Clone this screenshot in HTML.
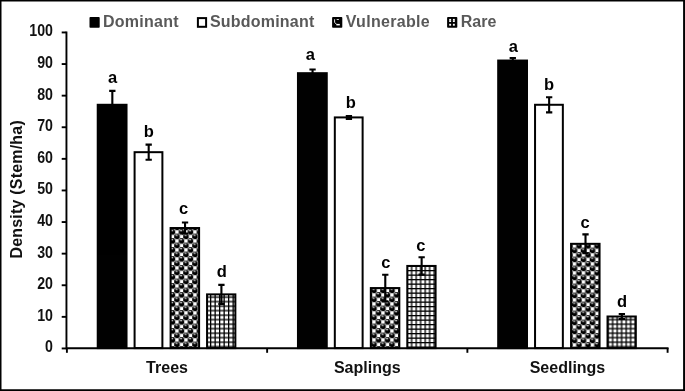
<!DOCTYPE html>
<html lang="en"><head><meta charset="utf-8"><title>Density chart</title>
<style>
html,body{margin:0;padding:0;background:#fff}
body{width:685px;height:391px;overflow:hidden}
svg{will-change:transform;opacity:0.999}
svg text{font-family:"Liberation Sans",Arial,sans-serif;font-weight:bold}
.dl{font-size:16.5px;fill:#000}
.tk{font-size:15.6px;fill:#111}
.ct{font-size:16px;fill:#111}
.yt{font-size:16px;fill:#111;letter-spacing:0.2px}
.lg{font-size:16px;fill:#595959}
</style></head><body>
<svg width="685" height="391" viewBox="0 0 685 391" style="display:block">
<defs><pattern id="sph0" patternUnits="userSpaceOnUse" width="9.0" height="9.0" patternTransform="translate(3.19 4.19)">
<rect width="9.0" height="9.0" fill="#000"/>
<rect x="1.060" y="1.060" width="3.5" height="3.5" fill="#fff"/>
<rect x="5.560" y="5.560" width="3.5" height="3.5" fill="#fff"/>
<rect x="0.050" y="0.050" width="1.3" height="1.3" fill="#c8c8c8"/>
<rect x="4.550" y="0.050" width="1.3" height="1.3" fill="#c8c8c8"/>
<rect x="0.050" y="4.550" width="1.3" height="1.3" fill="#c8c8c8"/>
<rect x="4.550" y="4.550" width="1.3" height="1.3" fill="#c8c8c8"/>
<ellipse cx="7.010" cy="1.610" rx="1.2" ry="0.6" fill="#fff"/>
<ellipse cx="2.510" cy="6.110" rx="1.2" ry="0.6" fill="#fff"/>
</pattern><pattern id="grd0" patternUnits="userSpaceOnUse" width="9.0" height="9.0" patternTransform="translate(3.0 -0.5)"><rect width="9.0" height="9.0" fill="#fff"/><rect x="0" y="0" width="1.3" height="9.0" fill="#000"/><rect x="0" y="0" width="9.0" height="1.3" fill="#000"/><rect x="4.5" y="0" width="1.3" height="9.0" fill="#000"/><rect x="0" y="4.5" width="9.0" height="1.3" fill="#000"/></pattern><pattern id="sph1" patternUnits="userSpaceOnUse" width="9.0" height="9.0" patternTransform="translate(2.19 4.19)">
<rect width="9.0" height="9.0" fill="#000"/>
<rect x="1.060" y="1.060" width="3.5" height="3.5" fill="#fff"/>
<rect x="5.560" y="5.560" width="3.5" height="3.5" fill="#fff"/>
<rect x="0.050" y="0.050" width="1.3" height="1.3" fill="#c8c8c8"/>
<rect x="4.550" y="0.050" width="1.3" height="1.3" fill="#c8c8c8"/>
<rect x="0.050" y="4.550" width="1.3" height="1.3" fill="#c8c8c8"/>
<rect x="4.550" y="4.550" width="1.3" height="1.3" fill="#c8c8c8"/>
<ellipse cx="7.010" cy="1.610" rx="1.2" ry="0.6" fill="#fff"/>
<ellipse cx="2.510" cy="6.110" rx="1.2" ry="0.6" fill="#fff"/>
</pattern><pattern id="grd1" patternUnits="userSpaceOnUse" width="9.0" height="9.0" patternTransform="translate(1.5 0.0)"><rect width="9.0" height="9.0" fill="#fff"/><rect x="0" y="0" width="1.3" height="9.0" fill="#000"/><rect x="0" y="0" width="9.0" height="1.3" fill="#000"/><rect x="4.5" y="0" width="1.3" height="9.0" fill="#000"/><rect x="0" y="4.5" width="9.0" height="1.3" fill="#000"/></pattern><pattern id="sph2" patternUnits="userSpaceOnUse" width="9.0" height="9.0" patternTransform="translate(4.69 0.19)">
<rect width="9.0" height="9.0" fill="#000"/>
<rect x="1.060" y="1.060" width="3.5" height="3.5" fill="#fff"/>
<rect x="5.560" y="5.560" width="3.5" height="3.5" fill="#fff"/>
<rect x="0.050" y="0.050" width="1.3" height="1.3" fill="#c8c8c8"/>
<rect x="4.550" y="0.050" width="1.3" height="1.3" fill="#c8c8c8"/>
<rect x="0.050" y="4.550" width="1.3" height="1.3" fill="#c8c8c8"/>
<rect x="4.550" y="4.550" width="1.3" height="1.3" fill="#c8c8c8"/>
<ellipse cx="7.010" cy="1.610" rx="1.2" ry="0.6" fill="#fff"/>
<ellipse cx="2.510" cy="6.110" rx="1.2" ry="0.6" fill="#fff"/>
</pattern><pattern id="grd2" patternUnits="userSpaceOnUse" width="9.0" height="9.0" patternTransform="translate(4.5 -0.5)"><rect width="9.0" height="9.0" fill="#fff"/><rect x="0" y="0" width="1.3" height="9.0" fill="#000"/><rect x="0" y="0" width="9.0" height="1.3" fill="#000"/><rect x="4.5" y="0" width="1.3" height="9.0" fill="#000"/><rect x="0" y="4.5" width="9.0" height="1.3" fill="#000"/></pattern><filter id="soft" x="-5%" y="-5%" width="110%" height="110%"><feGaussianBlur stdDeviation="0.28"/></filter></defs>
<rect x="0" y="0" width="685" height="391" fill="#fff"/>
<rect x="97.73" y="104.78" width="28.8" height="243.32" fill="#000" stroke="#000" stroke-width="2.0"/>
<rect x="134.59" y="152.18" width="27.8" height="195.92" fill="#fff" stroke="#000" stroke-width="2.0"/>
<rect x="170.60" y="228.02" width="28.5" height="120.08" fill="url(#sph0)" filter="url(#soft)"/>
<rect x="170.60" y="228.02" width="28.5" height="120.08" fill="none" stroke="#000" stroke-width="2.0"/>
<rect x="207.06" y="294.38" width="28.3" height="53.72" fill="url(#grd0)"/>
<rect x="207.06" y="294.38" width="28.3" height="53.72" fill="none" stroke="#000" stroke-width="2.0"/>
<rect x="297.96" y="73.18" width="28.8" height="274.92" fill="#000" stroke="#000" stroke-width="2.0"/>
<rect x="334.82" y="117.42" width="27.8" height="230.68" fill="#fff" stroke="#000" stroke-width="2.0"/>
<rect x="370.83" y="288.06" width="28.5" height="60.04" fill="url(#sph1)" filter="url(#soft)"/>
<rect x="370.83" y="288.06" width="28.5" height="60.04" fill="none" stroke="#000" stroke-width="2.0"/>
<rect x="407.29" y="265.94" width="28.3" height="82.16" fill="url(#grd1)"/>
<rect x="407.29" y="265.94" width="28.3" height="82.16" fill="none" stroke="#000" stroke-width="2.0"/>
<rect x="498.19" y="60.54" width="28.8" height="287.56" fill="#000" stroke="#000" stroke-width="2.0"/>
<rect x="535.05" y="104.78" width="27.8" height="243.32" fill="#fff" stroke="#000" stroke-width="2.0"/>
<rect x="571.06" y="243.82" width="28.5" height="104.28" fill="url(#sph2)" filter="url(#soft)"/>
<rect x="571.06" y="243.82" width="28.5" height="104.28" fill="none" stroke="#000" stroke-width="2.0"/>
<rect x="607.52" y="316.50" width="28.3" height="31.60" fill="url(#grd2)"/>
<rect x="607.52" y="316.50" width="28.3" height="31.60" fill="none" stroke="#000" stroke-width="2.0"/>
<path d="M112.33 90.88V118.68M109.18 90.88H115.48M109.18 118.68H115.48" stroke="#000" stroke-width="2.1" fill="none"/>
<text x="112.63" y="82.60" text-anchor="middle" class="dl">a</text>
<path d="M148.69 144.60V159.76M145.54 144.60H151.84M145.54 159.76H151.84" stroke="#000" stroke-width="2.1" fill="none"/>
<text x="148.69" y="136.60" text-anchor="middle" class="dl">b</text>
<path d="M185.05 222.49V233.55M181.90 222.49H188.20M181.90 233.55H188.20" stroke="#000" stroke-width="2.1" fill="none"/>
<text x="183.65" y="214.00" text-anchor="middle" class="dl">c</text>
<path d="M221.41 284.90V303.86M218.26 284.90H224.56M218.26 303.86H224.56" stroke="#000" stroke-width="2.1" fill="none"/>
<text x="221.71" y="277.00" text-anchor="middle" class="dl">d</text>
<path d="M312.56 69.55V76.81M309.41 69.55H315.71M309.41 76.81H315.71" stroke="#000" stroke-width="2.1" fill="none"/>
<text x="310.46" y="59.50" text-anchor="middle" class="dl">a</text>
<path d="M348.92 116.00V118.84M345.77 116.00H352.07M345.77 118.84H352.07" stroke="#000" stroke-width="2.1" fill="none"/>
<text x="350.92" y="107.80" text-anchor="middle" class="dl">b</text>
<path d="M385.28 274.79V301.33M382.13 274.79H388.43M382.13 301.33H388.43" stroke="#000" stroke-width="2.1" fill="none"/>
<text x="385.78" y="267.60" text-anchor="middle" class="dl">c</text>
<path d="M421.64 257.25V274.63M418.49 257.25H424.79M418.49 274.63H424.79" stroke="#000" stroke-width="2.1" fill="none"/>
<text x="420.94" y="250.80" text-anchor="middle" class="dl">c</text>
<path d="M512.79 58.17V62.91M509.64 58.17H515.94M509.64 62.91H515.94" stroke="#000" stroke-width="2.1" fill="none"/>
<text x="513.39" y="52.30" text-anchor="middle" class="dl">a</text>
<path d="M549.15 97.20V112.36M546.00 97.20H552.30M546.00 112.36H552.30" stroke="#000" stroke-width="2.1" fill="none"/>
<text x="549.15" y="89.90" text-anchor="middle" class="dl">b</text>
<path d="M585.51 234.34V253.30M582.36 234.34H588.66M582.36 253.30H588.66" stroke="#000" stroke-width="2.1" fill="none"/>
<text x="585.01" y="228.40" text-anchor="middle" class="dl">c</text>
<path d="M621.87 313.97V319.03M618.72 313.97H625.02M618.72 319.03H625.02" stroke="#000" stroke-width="2.1" fill="none"/>
<text x="622.17" y="306.50" text-anchor="middle" class="dl">d</text>
<path d="M66.45 31.50V349.15000000000003M65.5 348.20000000000005H668.5500000000001" stroke="#000" stroke-width="1.9" fill="none"/>
<path d="M61.699999999999996 348.45H66.3" stroke="#000" stroke-width="1.9"/>
<text transform="translate(53.0 352.40) scale(0.91 1)" text-anchor="end" class="tk">0</text>
<path d="M61.699999999999996 316.85H66.3" stroke="#000" stroke-width="1.9"/>
<text transform="translate(53.0 320.80) scale(0.91 1)" text-anchor="end" class="tk">10</text>
<path d="M61.699999999999996 285.25H66.3" stroke="#000" stroke-width="1.9"/>
<text transform="translate(53.0 289.20) scale(0.91 1)" text-anchor="end" class="tk">20</text>
<path d="M61.699999999999996 253.65H66.3" stroke="#000" stroke-width="1.9"/>
<text transform="translate(53.0 257.60) scale(0.91 1)" text-anchor="end" class="tk">30</text>
<path d="M61.699999999999996 222.05H66.3" stroke="#000" stroke-width="1.9"/>
<text transform="translate(53.0 226.00) scale(0.91 1)" text-anchor="end" class="tk">40</text>
<path d="M61.699999999999996 190.45H66.3" stroke="#000" stroke-width="1.9"/>
<text transform="translate(53.0 194.40) scale(0.91 1)" text-anchor="end" class="tk">50</text>
<path d="M61.699999999999996 158.85H66.3" stroke="#000" stroke-width="1.9"/>
<text transform="translate(53.0 162.80) scale(0.91 1)" text-anchor="end" class="tk">60</text>
<path d="M61.699999999999996 127.25H66.3" stroke="#000" stroke-width="1.9"/>
<text transform="translate(53.0 131.20) scale(0.91 1)" text-anchor="end" class="tk">70</text>
<path d="M61.699999999999996 95.65H66.3" stroke="#000" stroke-width="1.9"/>
<text transform="translate(53.0 99.60) scale(0.91 1)" text-anchor="end" class="tk">80</text>
<path d="M61.699999999999996 64.05H66.3" stroke="#000" stroke-width="1.9"/>
<text transform="translate(53.0 68.00) scale(0.91 1)" text-anchor="end" class="tk">90</text>
<path d="M61.699999999999996 32.45H66.3" stroke="#000" stroke-width="1.9"/>
<text transform="translate(53.0 36.40) scale(0.91 1)" text-anchor="end" class="tk">100</text>
<path d="M66.90 348.1V352.8" stroke="#000" stroke-width="1.9"/>
<path d="M267.13 348.1V352.8" stroke="#000" stroke-width="1.9"/>
<path d="M467.37 348.1V352.8" stroke="#000" stroke-width="1.9"/>
<path d="M667.60 348.1V352.8" stroke="#000" stroke-width="1.9"/>
<text x="167.02" y="372.6" text-anchor="middle" class="ct">Trees</text>
<text x="367.25" y="372.6" text-anchor="middle" class="ct">Saplings</text>
<text x="567.48" y="372.6" text-anchor="middle" class="ct">Seedlings</text>
<text transform="translate(21.7 189.3) rotate(-90)" text-anchor="middle" class="yt">Density (Stem/ha)</text>
<rect x="89.5" y="17.1" width="10.2" height="10.7" rx="0.8" fill="#000"/>
<text x="103.0" y="27.2" class="lg" style="letter-spacing:0.25px">Dominant</text>
<rect x="197.9" y="18.1" width="8.2" height="8.7" fill="#fff" stroke="#000" stroke-width="2"/>
<text x="210.0" y="27.2" class="lg" style="letter-spacing:0.2px">Subdominant</text>
<rect x="332.1" y="17.1" width="10.2" height="10.7" rx="0.8" fill="#000"/>
<path d="M334.6 19.3V22.3L336.70000000000005 24.5" stroke="#fff" stroke-width="0.9" fill="none"/>
<rect x="336.40000000000003" y="23.900000000000002" width="3.4" height="1.5" fill="#fff"/>
<rect x="336.70000000000005" y="19.1" width="2.2" height="0.8" fill="#fff"/>
<text x="345.7" y="27.2" class="lg" style="letter-spacing:0.3px">Vulnerable</text>
<rect x="447.1" y="17.1" width="10.2" height="10.7" rx="0.8" fill="#000"/>
<rect x="449.20000000000005" y="18.900000000000002" width="1.9" height="3.1" fill="#fff"/>
<rect x="449.20000000000005" y="23.8" width="1.9" height="1.9" fill="#fff"/>
<rect x="449.20000000000005" y="20.200000000000003" width="1.9" height="0.5" fill="#999"/>
<rect x="452.90000000000003" y="18.900000000000002" width="1.9" height="3.1" fill="#fff"/>
<rect x="452.90000000000003" y="23.8" width="1.9" height="1.9" fill="#fff"/>
<rect x="452.90000000000003" y="20.200000000000003" width="1.9" height="0.5" fill="#999"/>
<text x="460.8" y="27.2" class="lg" style="letter-spacing:0.0px">Rare</text>
<path d="M0 0H685V391H0Z M1.5 1.4V389.25H683.1V1.4Z" fill="#000" fill-rule="evenodd"/>
</svg>
</body></html>
